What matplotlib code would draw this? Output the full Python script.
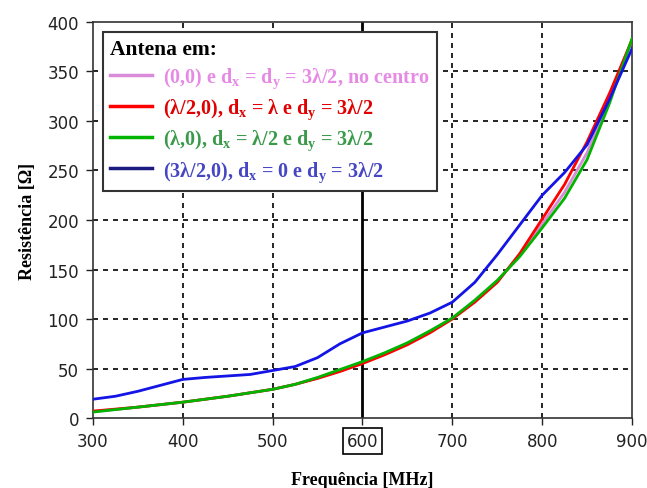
import matplotlib
matplotlib.use("Agg")
import matplotlib.pyplot as plt
from matplotlib.lines import Line2D

plt.rcParams['mathtext.fontset'] = 'custom'
plt.rcParams['mathtext.rm'] = 'Liberation Serif:bold'
plt.rcParams['mathtext.it'] = 'Liberation Serif:bold'
plt.rcParams['mathtext.bf'] = 'Liberation Serif:bold'

# frequencias [MHz]
freq = [300, 325, 350, 375, 400, 425, 450, 475, 500, 525, 550, 575, 600,
        625, 650, 675, 700, 725, 750, 775, 800, 825, 850, 875, 900]

# resistencia [Ohm]
r_centro = [6.5, 8.7, 11, 13.5, 16, 19, 22, 25.5, 29, 34, 40.5, 48, 56,
            65, 75, 87, 100.5, 118, 138, 164.5, 196, 228, 268, 322, 382]
r_lambda2 = [7, 9, 11, 13.5, 16, 19, 22, 25.5, 29, 34, 40, 47, 55,
             64, 74, 86, 100, 117, 137, 166, 201, 236, 279, 328, 382]
r_lambda = [6, 8.5, 11, 13.5, 16, 19, 22, 25.5, 29, 34, 41, 49, 57,
            66, 76, 88, 101, 119, 139, 163, 192, 222, 261, 318, 383]
r_3lambda2 = [19, 22, 27, 33, 39, 41, 42.5, 44, 48, 52, 61, 75, 86,
              92, 98, 106, 117, 137, 165, 195, 225, 248, 276, 322, 373]

labels = [r"(0,0) e d$_\mathrm{x}$ = d$_\mathrm{y}$ = 3λ/2, no centro",
          r"(λ/2,0), d$_\mathrm{x}$ = λ e d$_\mathrm{y}$ = 3λ/2",
          r"(λ,0), d$_\mathrm{x}$ = λ/2 e d$_\mathrm{y}$ = 3λ/2",
          r"(3λ/2,0), d$_\mathrm{x}$ = 0 e d$_\mathrm{y}$ = 3λ/2"]
line_colors = ['#d98ad9', '#ff0000', '#00b400', '#1414e6']
handle_colors = ['#d98ad9', '#ff0000', '#00b400', '#1a1a80']
text_colors = ['#e68ae6', '#e00000', '#3a9a4a', '#4646c4']

fig = plt.figure(figsize=(6.47, 4.89), dpi=100)
ax = fig.add_axes([0.1437, 0.1431, 0.8331, 0.8099])

ax.set_xlim(300, 900)
ax.set_ylim(0, 400)
ax.set_xticks([300, 400, 500, 600, 700, 800, 900])
ax.set_yticks(range(0, 401, 50))

# grade tracejada
for xv in [400, 500, 700, 800]:
    ax.axvline(xv, color='black', lw=1.2, dashes=(3, 3), zorder=1)
for yv in range(50, 400, 50):
    ax.axhline(yv, color='black', lw=1.2, dashes=(3, 3), zorder=1)
ax.axvline(600, color='black', lw=2, zorder=1)

for serie, cor in zip([r_centro, r_lambda2, r_lambda, r_3lambda2], line_colors):
    ax.plot(freq, serie, color=cor, lw=2, zorder=3)

for s in ax.spines.values():
    s.set_color('#333333')
    s.set_linewidth(1.2)
ax.tick_params(direction='out', length=5, width=1, colors='#222222',
               labelsize=12, pad=5)

for lab in ax.get_xticklabels():
    if lab.get_text() == '600':
        lab.set_bbox(dict(boxstyle='square,pad=0.25', fc='none', ec='black', lw=1.2))

ax.set_xlabel("Frequência [MHz]", family='Liberation Serif', weight='bold',
              fontsize=13, labelpad=15)
ax.set_ylabel("Resistência [Ω]", family='Liberation Serif', weight='bold',
              fontsize=13, labelpad=8)

handles = [Line2D([], [], color=c, lw=2.5) for c in handle_colors]
leg = ax.legend(handles, labels, title="Antena em:", loc='upper left',
                bbox_to_anchor=(0.0186, 0.975), borderaxespad=0,
                prop={'family': 'Liberation Serif', 'weight': 'bold', 'size': 14.5},
                title_fontproperties={'family': 'Liberation Serif', 'weight': 'bold', 'size': 15.5},
                labelcolor=text_colors, alignment='left', frameon=True,
                fancybox=False, framealpha=1, edgecolor='#333333',
                handlelength=2.1, handletextpad=0.55, labelspacing=0.33,
                borderpad=0.35)
leg.get_frame().set_linewidth(1.5)
leg.set_zorder(5)

fig.savefig("out.png", dpi=100)
